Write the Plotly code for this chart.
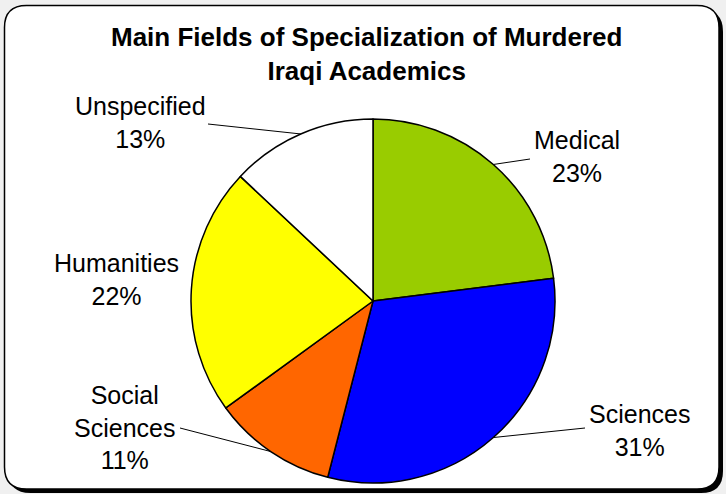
import math
import plotly.graph_objects as go

# ---- data ----
categories = ["Medical", "Sciences", "Social<br>Sciences", "Humanities", "Unspecified"]
values = [23, 31, 11, 22, 13]
colors = ["#99CC00", "#0000FF", "#FF6600", "#FFFF00", "#FFFFFF"]
title_lines = ["Main Fields of Specialization of Murdered", "Iraqi Academics"]

W, H = 726, 494
CX, CY, R = 373, 301, 182  # pie centre / radius in px

# label positions (px) and leader line outer ends (px, None = no line)
label_pos = [(577, 157), (639, 430), (124, 427), (116, 279), (140, 122)]
line_end = [(530, 159), (585, 428), (180, 428), None, (208, 124)]

def px2paper(x, y):
    return x / W, 1 - y / H

fig = go.Figure()
fig.add_trace(go.Pie(
    labels=categories, values=values, sort=False, direction="clockwise", rotation=0,
    marker=dict(colors=colors, line=dict(color="black", width=1.5)),
    textinfo="none", hoverinfo="label+percent", showlegend=False,
    domain=dict(x=[(CX - R) / W, (CX + R) / W], y=[(H - CY - R) / H, (H - CY + R) / H]),
))

total = sum(values)
cum = 0
shapes = []
annotations = []
for i, (cat, v) in enumerate(zip(categories, values)):
    mid = (cum + v / 2) / total * 2 * math.pi
    cum += v
    ex, ey = CX + R * math.sin(mid), CY - R * math.cos(mid)
    lx, ly = label_pos[i]
    pct = round(v / total * 100)
    ax, ay = px2paper(lx, ly)
    annotations.append(dict(
        x=ax, y=ay, xref="paper", yref="paper", showarrow=False,
        xanchor="center", yanchor="middle",
        text=f"{cat}<br>{pct}%", align="center",
        font=dict(family="Liberation Sans, Arial, sans-serif", size=25, color="black"),
    ))
    if line_end[i] is not None:
        x0, y0 = px2paper(ex, ey)
        x1, y1 = px2paper(*line_end[i])
        shapes.append(dict(type="line", xref="paper", yref="paper", x0=x0, y0=y0, x1=x1, y1=y1,
                           line=dict(color="black", width=1), layer="above"))

def rrect(l, t, r, b, rad):
    p = [px2paper(l + rad, t), px2paper(r - rad, t), px2paper(r, t), px2paper(r, t + rad),
         px2paper(r, b - rad), px2paper(r, b), px2paper(r - rad, b), px2paper(l + rad, b),
         px2paper(l, b), px2paper(l, b - rad), px2paper(l, t + rad), px2paper(l, t)]
    f = lambda q: f"{q[0]:.5f},{q[1]:.5f}"
    return (f"M{f(p[0])} L{f(p[1])} Q{f(p[2])} {f(p[3])} L{f(p[4])} Q{f(p[5])} {f(p[6])} "
            f"L{f(p[7])} Q{f(p[8])} {f(p[9])} L{f(p[10])} Q{f(p[11])} {f(p[0])} Z")

frame_shapes = [
    dict(type="path", xref="paper", yref="paper", path=rrect(8.5, 9.5, 723, 493, 22),
         fillcolor="black", line=dict(width=0), layer="below"),
    dict(type="path", xref="paper", yref="paper", path=rrect(4.5, 5.5, 719, 489, 22),
         fillcolor="white", line=dict(color="black", width=1.5), layer="below"),
]

fig.update_layout(
    width=W, height=H, margin=dict(l=0, r=0, t=0, b=0),
    paper_bgcolor="#F0F0F0", plot_bgcolor="#F0F0F0",
    shapes=frame_shapes + shapes,
    annotations=annotations + [dict(
        x=366 / W, y=1 - 54 / H, xref="paper", yref="paper", showarrow=False,
        xanchor="center", yanchor="middle",
        text="<b>" + "<br>".join(title_lines) + "</b>", align="center",
        font=dict(family="Liberation Sans, Arial, sans-serif", size=26, color="black"),
    )],
)

fig.write_html("out.html", config={"displayModeBar": False},
               post_script="document.body.style.margin='0';document.body.style.overflow='hidden';")
